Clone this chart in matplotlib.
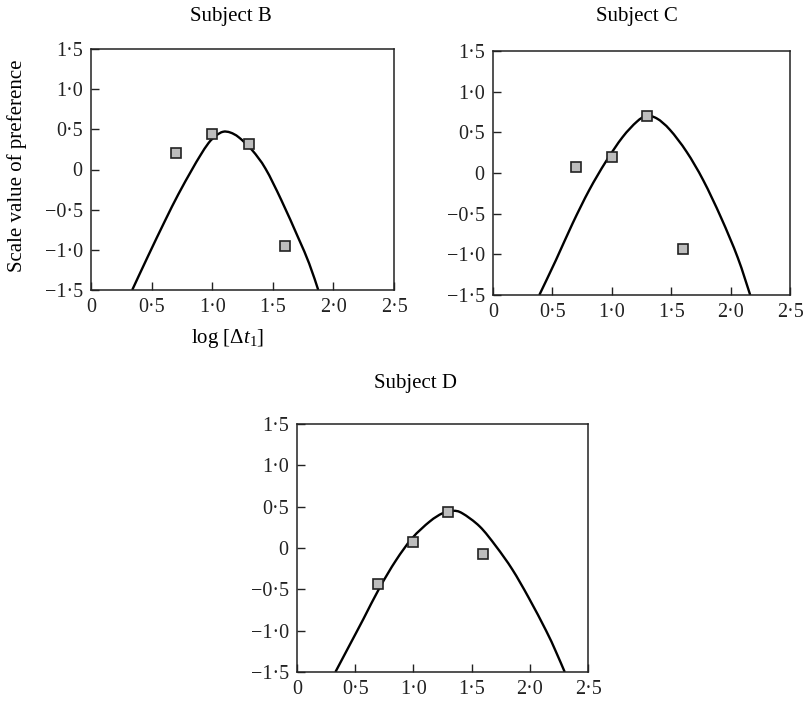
import matplotlib
matplotlib.use("Agg")
import matplotlib.pyplot as plt
from matplotlib.path import Path
from matplotlib.patches import PathPatch

plt.rcParams['font.family'] = ['Liberation Serif', 'DejaVu Serif']
plt.rcParams['mathtext.fontset'] = 'custom'
plt.rcParams['mathtext.rm'] = 'Liberation Serif'
plt.rcParams['mathtext.it'] = 'Liberation Serif:italic'

# ---- data ----
x_points = [0.7, 1.0, 1.3, 1.6]
b_points = [0.20, 0.44, 0.32, -0.95]
c_points = [0.07, 0.20, 0.70, -0.94]
d_points = [-0.44, 0.07, 0.44, -0.07]

b_curve_x = [0.34, 0.47, 0.61, 0.72, 0.83, 0.90, 0.97, 1.03, 1.09, 1.15, 1.22, 1.33, 1.44, 1.57, 1.71, 1.80, 1.875]
b_curve_y = [-1.50, -1.08, -0.64, -0.31, -0.01, 0.17, 0.33, 0.42, 0.47, 0.46, 0.40, 0.24, 0.01, -0.38, -0.85, -1.17, -1.50]

c_curve_x = [0.39, 0.53, 0.67, 0.81, 0.95, 1.09, 1.21, 1.29, 1.38, 1.49, 1.63, 1.77, 1.92, 2.06, 2.165]
c_curve_y = [-1.50, -1.07, -0.62, -0.21, 0.14, 0.44, 0.63, 0.70, 0.67, 0.53, 0.26, -0.09, -0.55, -1.04, -1.50]

d_curve_x = [0.33, 0.45, 0.57, 0.71, 0.85, 0.99, 1.14, 1.25, 1.34, 1.42, 1.57, 1.71, 1.85, 1.99, 2.14, 2.22, 2.30]
d_curve_y = [-1.50, -1.18, -0.86, -0.48, -0.15, 0.12, 0.32, 0.42, 0.45, 0.42, 0.26, 0.02, -0.26, -0.60, -1.00, -1.24, -1.50]

x_ticks = [0, 0.5, 1.0, 1.5, 2.0, 2.5]
x_tick_labels = ["0", "0·5", "1·0", "1·5", "2·0", "2·5"]
y_ticks = [-1.5, -1.0, -0.5, 0, 0.5, 1.0, 1.5]
y_tick_labels = ["−1·5", "−1·0", "−0·5", "0", "0·5", "1·0", "1·5"]

titles = ["Subject B", "Subject C", "Subject D"]

W, H = 806, 707
fig = plt.figure(figsize=(W / 100, H / 100), dpi=100)


def px_axes(left, top, right, bottom):
    return fig.add_axes([left / W, 1 - bottom / H, (right - left) / W, (bottom - top) / H])


def smooth_path(xs, ys):
    """Catmull-Rom spline through the read points, as cubic Bezier segments."""
    pts = list(zip(xs, ys))
    ext = [pts[0]] + pts + [pts[-1]]
    verts = [pts[0]]
    codes = [Path.MOVETO]
    for i in range(1, len(ext) - 2):
        p0, p1, p2, p3 = ext[i - 1], ext[i], ext[i + 1], ext[i + 2]
        c1 = (p1[0] + (p2[0] - p0[0]) / 6, p1[1] + (p2[1] - p0[1]) / 6)
        c2 = (p2[0] - (p3[0] - p1[0]) / 6, p2[1] - (p3[1] - p1[1]) / 6)
        verts += [c1, c2, p2]
        codes += [Path.CURVE4] * 3
    return Path(verts, codes)


axB = px_axes(91, 49, 394, 290)
axC = px_axes(493, 51, 790, 295)
axD = px_axes(297, 424, 588, 672)

for ax, px, py, cx, cy in [
    (axB, x_points, b_points, b_curve_x, b_curve_y),
    (axC, x_points, c_points, c_curve_x, c_curve_y),
    (axD, x_points, d_points, d_curve_x, d_curve_y),
]:
    patch = PathPatch(smooth_path(cx, cy), facecolor='none', edgecolor='black',
                      lw=1.7, transform=ax.transData, zorder=2)
    ax.add_patch(patch)
    ax.plot(px, py, linestyle='none', marker='s', markersize=7.5,
            markerfacecolor='#bdbdbd', markeredgecolor='#222222', markeredgewidth=1.2, zorder=3)
    ax.set_xlim(0, 2.5)
    ax.set_ylim(-1.5, 1.5)
    ax.set_xticks(x_ticks)
    ax.set_xticklabels(x_tick_labels)
    ax.set_yticks(y_ticks)
    ax.set_yticklabels(y_tick_labels)
    ax.tick_params(direction='in', length=6, width=1.0, labelsize=14.5, pad=6,
                   top=False, right=False, colors='#222222')
    for s in ax.spines.values():
        s.set_linewidth(1.1)
        s.set_color('#222222')

fig.text(231 / W, 1 - 17 / H, titles[0], ha='center', va='center', fontsize=15)
fig.text(637 / W, 1 - 17 / H, titles[1], ha='center', va='center', fontsize=15)
fig.text(415 / W, 1 - 383 / H, titles[2], ha='center', va='center', fontsize=15)

fig.text(17 / W, 1 - 166 / H, "Scale value of preference", rotation=90,
         ha='center', va='center', fontsize=15)
fig.text(228 / W, 1 - 338 / H, r"log [$\mathit{\Delta t}_{1}$]", ha='center', va='center', fontsize=15)

fig.savefig("out.png", dpi=100, facecolor='white')
